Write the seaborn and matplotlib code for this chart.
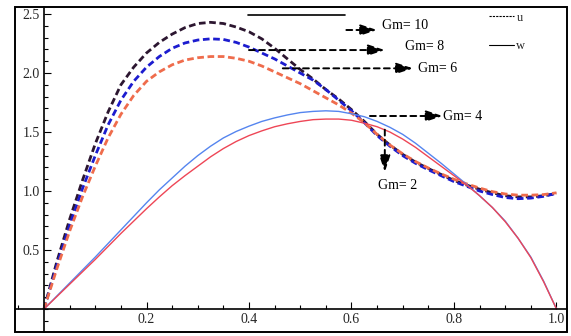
import numpy as np
import pandas as pd
import matplotlib
matplotlib.use("Agg")
import matplotlib.pyplot as plt
from matplotlib.patches import Rectangle
from matplotlib.lines import Line2D
from matplotlib.ticker import MultipleLocator
import seaborn as sns

# ---------------- data ----------------
x_grid = [0.0, 0.025, 0.05, 0.075, 0.1, 0.125, 0.15, 0.175, 0.2, 0.225,
          0.25, 0.275, 0.3, 0.325, 0.35, 0.375, 0.4, 0.425, 0.45, 0.475,
          0.5, 0.525, 0.55, 0.575, 0.6, 0.625, 0.65, 0.675, 0.7, 0.725,
          0.75, 0.775, 0.8, 0.825, 0.85, 0.875, 0.9, 0.925, 0.95, 0.975, 1.0]

u_gm10 = [0.0, 0.40, 0.76, 1.09, 1.40, 1.67, 1.90, 2.05, 2.17, 2.26,
          2.33, 2.385, 2.42, 2.43, 2.42, 2.39, 2.35, 2.29, 2.21, 2.12,
          2.03, 1.95, 1.86, 1.78, 1.69, 1.59, 1.48, 1.39, 1.31, 1.245,
          1.19, 1.14, 1.09, 1.05, 1.015, 0.985, 0.96, 0.95, 0.95, 0.96, 0.98]
u_gm8 = [0.0, 0.37, 0.71, 1.02, 1.30, 1.56, 1.77, 1.93, 2.05, 2.14,
         2.21, 2.255, 2.28, 2.29, 2.285, 2.26, 2.22, 2.17, 2.12, 2.06,
         2.00, 1.94, 1.86, 1.77, 1.68, 1.58, 1.47, 1.38, 1.30, 1.235,
         1.18, 1.13, 1.08, 1.04, 1.00, 0.97, 0.945, 0.935, 0.94, 0.955, 0.98]
u_gm6 = [0.0, 0.34, 0.66, 0.95, 1.21, 1.45, 1.65, 1.81, 1.93, 2.01,
         2.07, 2.11, 2.13, 2.14, 2.14, 2.125, 2.10, 2.06, 2.01, 1.96,
         1.91, 1.85, 1.79, 1.73, 1.66, 1.58, 1.48, 1.39, 1.315, 1.25,
         1.195, 1.145, 1.10, 1.06, 1.025, 0.995, 0.975, 0.965, 0.965, 0.97, 0.985]

w_blue = [0.0, 0.11, 0.22, 0.33, 0.44, 0.555, 0.67, 0.785, 0.90, 1.01,
          1.11, 1.21, 1.30, 1.38, 1.45, 1.505, 1.55, 1.59, 1.62, 1.645,
          1.665, 1.675, 1.68, 1.675, 1.655, 1.63, 1.59, 1.54, 1.48, 1.405,
          1.32, 1.235, 1.145, 1.055, 0.96, 0.86, 0.745, 0.60, 0.44, 0.235, 0.0]
w_red = [0.0, 0.105, 0.21, 0.315, 0.42, 0.53, 0.64, 0.745, 0.85, 0.95,
         1.045, 1.13, 1.21, 1.29, 1.36, 1.42, 1.47, 1.51, 1.545, 1.57,
         1.59, 1.605, 1.61, 1.61, 1.60, 1.575, 1.545, 1.50, 1.44, 1.37,
         1.29, 1.21, 1.13, 1.05, 0.96, 0.86, 0.74, 0.60, 0.435, 0.23, 0.0]

x_ticks = [0.2, 0.4, 0.6, 0.8, 1.0]
x_tick_labels = ["0.2", "0.4", "0.6", "0.8", "1.0"]
y_ticks = [0.5, 1.0, 1.5, 2.0, 2.5]
y_tick_labels = ["0.5", "1.0", "1.5", "2.0", "2.5"]

# Annotation labels: (text, arrow start, arrow end, text position)
annotations = [
    ("Gm= 10", (0.590, 2.365), (0.650, 2.365), (0.660, 2.405)),
    ("Gm= 8",  (0.400, 2.195), (0.665, 2.195), (0.704, 2.225)),
    ("Gm= 6",  (0.466, 2.040), (0.720, 2.040), (0.730, 2.035)),
    ("Gm= 4",  (0.636, 1.636), (0.778, 1.636), (0.779, 1.636)),
    ("Gm= 2",  (0.665, 1.520), (0.665, 1.160), (0.652, 1.050)),
]
top_rule_x = [0.398, 0.587]
top_rule_y = [2.49, 2.49]

# ---------------- styling ----------------
sns.set_style("white")
plt.rcParams["font.family"] = ["Liberation Serif", "DejaVu Serif"]
plt.rcParams["font.size"] = 10

fig = plt.figure(figsize=(5.71, 3.36), dpi=100)
ax = fig.add_axes([15 / 571, 4 / 336, 552 / 571, 325 / 336])
ax.set_xlim(-0.0566, 1.0205)
ax.set_ylim(-0.195, 2.56)

dash = (2.4, 1.3)
series_u = [(u_gm10, "#2c1630"), (u_gm8, "#1c1ccf"), (u_gm6, "#ef6c4c")]
for ys, col in series_u:
    df = pd.DataFrame({"x": x_grid, "y": ys})
    sns.lineplot(data=df, x="x", y="y", ax=ax, color=col, lw=2.0,
                 linestyle=(0, dash), sort=False, estimator=None)

for ys, col in [(w_blue, "#5585ef"), (w_red, "#ee4656")]:
    df = pd.DataFrame({"x": x_grid, "y": ys})
    sns.lineplot(data=df, x="x", y="y", ax=ax, color=col, lw=1.0,
                 sort=False, estimator=None)

ax.plot(top_rule_x, top_rule_y, color="black", lw=1.2)

# annotations
for txt, start, end, tpos in annotations:
    ax.annotate("", xy=end, xytext=start,
                arrowprops=dict(arrowstyle="-|>,head_length=1.0,head_width=0.33",
                                linestyle=(0, (3, 2.2)), color="black", lw=1.4,
                                shrinkA=0, shrinkB=0))
    ax.text(tpos[0], tpos[1], txt, ha="left", va="center", fontsize=10,
            color="black")

# legend
handles = [Line2D([], [], color="black", lw=0.8, linestyle=(0, (2, 1))),
           Line2D([], [], color="black", lw=0.8)]
leg = ax.legend(handles, ["u", "w"], loc="upper right",
                bbox_to_anchor=(0.945, 1.02), frameon=False, handlelength=2.0,
                handletextpad=0.2, labelspacing=1.3, fontsize=9)

# axes through the origin
for side in ["top", "right"]:
    ax.spines[side].set_visible(False)
ax.spines["left"].set_position(("data", 0))
ax.spines["bottom"].set_position(("data", 0))
for side in ["left", "bottom"]:
    ax.spines[side].set_linewidth(1.2)
    ax.spines[side].set_color("black")
ax.add_patch(Rectangle((0, 0), 1, 1, transform=ax.transAxes, fill=False,
                       lw=1.4, edgecolor="black", clip_on=False, zorder=5))

ax.set_xticks(x_ticks)
ax.set_xticklabels(x_tick_labels)
ax.set_yticks(y_ticks)
ax.set_yticklabels(y_tick_labels)
ax.xaxis.set_minor_locator(MultipleLocator(0.05))
ax.yaxis.set_minor_locator(MultipleLocator(0.1))
ax.tick_params(which="both", direction="in", color="black", width=0.8,
               left=True, bottom=True, labelsize=10)
ax.tick_params(which="major", length=5, pad=3)
ax.tick_params(which="minor", length=3)
ax.set_xlabel("")
ax.set_ylabel("")

fig.savefig("out.png", dpi=100)
